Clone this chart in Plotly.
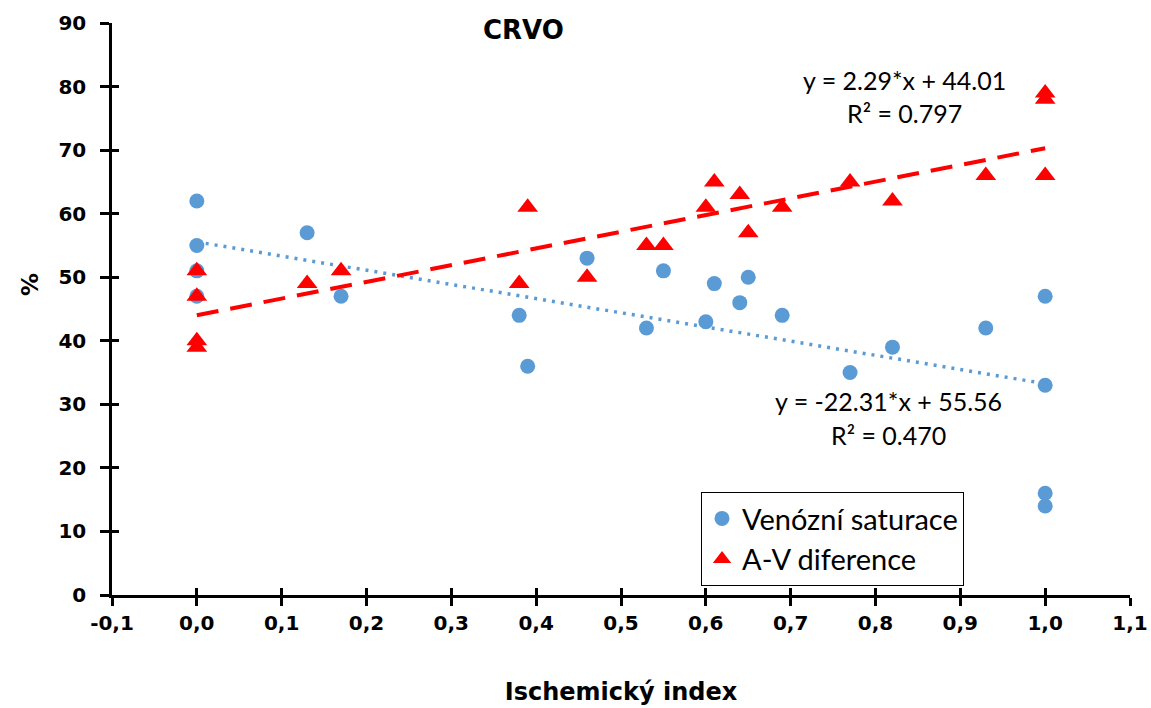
import plotly.graph_objects as go

# ---- data ----
ven_x = [0.0, 0.0, 0.0, 0.0, 0.13, 0.17, 0.38, 0.39, 0.46, 0.53, 0.55, 0.60, 0.61,
         0.64, 0.65, 0.69, 0.77, 0.82, 0.93, 1.0, 1.0, 1.0, 1.0]
ven_y = [62, 55, 51, 47, 57, 47, 44, 36, 53, 42, 51, 43, 49,
         46, 50, 44, 35, 39, 42, 47, 33, 16, 14]

av_x = [0.0, 0.0, 0.0, 0.0, 0.13, 0.17, 0.38, 0.39, 0.46, 0.53, 0.55, 0.60, 0.61,
        0.64, 0.65, 0.69, 0.77, 0.82, 0.93, 1.0, 1.0, 1.0]
av_y = [51, 47, 40, 39, 49, 51, 49, 61, 50, 55, 55, 61, 65,
        63, 57, 61, 65, 62, 66, 79, 78, 66]

# trend lines as drawn (slope, intercept)
ven_trend = (-22.31, 55.56)
av_trend = (26.29, 44.01)
trend_x = [0.0, 1.0]

ven_eq = ["y = -22.31*x + 55.56", "R² = 0.470"]
av_eq = ["y = 2.29*x + 44.01", "R² = 0.797"]

x_ticks = [-0.1, 0.0, 0.1, 0.2, 0.3, 0.4, 0.5, 0.6, 0.7, 0.8, 0.9, 1.0, 1.1]
x_ticktext = ["-0,1", "0,0", "0,1", "0,2", "0,3", "0,4", "0,5", "0,6", "0,7", "0,8", "0,9", "1,0", "1,1"]
y_ticks = [0, 10, 20, 30, 40, 50, 60, 70, 80, 90]

BLUE = "#5B9BD5"
RED = "#FF0000"

fig = go.Figure()

fig.add_trace(go.Scatter(x=trend_x, y=[ven_trend[0] * v + ven_trend[1] for v in trend_x],
                         mode="lines", line=dict(color=BLUE, width=3.5, dash="3px,6px"),
                         showlegend=False, hoverinfo="skip"))
fig.add_trace(go.Scatter(x=trend_x, y=[av_trend[0] * v + av_trend[1] for v in trend_x],
                         mode="lines", line=dict(color=RED, width=4, dash="22px,12px"),
                         showlegend=False, hoverinfo="skip"))

fig.add_trace(go.Scatter(x=ven_x, y=ven_y, mode="markers", name="Venózní saturace",
                         marker=dict(symbol="circle", size=15, color=BLUE)))
fig.add_trace(go.Scatter(x=av_x, y=av_y, mode="markers", name="A-V diference",
                         marker=dict(symbol="triangle-up", size=18, color=RED)))

# invisible trace for the inner-tick overlay axes
fig.add_trace(go.Scatter(x=[x_ticks[0]], y=[y_ticks[0]], xaxis="x2", yaxis="y2",
                         mode="markers", marker=dict(opacity=0), showlegend=False,
                         hoverinfo="skip"))

tick_font = dict(family="DejaVu Sans", size=20, color="black", weight="bold")
ann_font = dict(family="Lato", size=25, color="black")

fig.update_layout(
    width=1151, height=708,
    margin=dict(l=112, r=21, t=23, b=113, autoexpand=False),
    paper_bgcolor="white", plot_bgcolor="white",
    xaxis=dict(range=[-0.1, 1.1], tickvals=x_ticks, ticktext=x_ticktext,
               showline=True, linecolor="black", linewidth=2.5,
               ticks="outside", ticklen=8, tickwidth=2.5, tickcolor="black",
               showgrid=False, zeroline=False, tickfont=tick_font, automargin=False,
               title=dict(text="Ischemický index", standoff=50,
                          font=dict(family="DejaVu Sans", size=24, color="black", weight="bold"))),
    yaxis=dict(range=[0, 90], tickvals=y_ticks,
               showline=True, linecolor="black", linewidth=2.5,
               ticks="outside", ticklen=9, tickwidth=2.5, tickcolor="black",
               ticklabelstandoff=10, automargin=False,
               showgrid=False, zeroline=False, tickfont=tick_font),
    xaxis2=dict(range=[-0.1, 1.1], tickvals=x_ticks, overlaying="x", showticklabels=False,
                ticks="inside", ticklen=7, tickwidth=2.5, tickcolor="black",
                showline=False, showgrid=False, zeroline=False, automargin=False),
    yaxis2=dict(range=[0, 90], tickvals=y_ticks, overlaying="y", showticklabels=False,
                ticks="inside", ticklen=7, tickwidth=2.5, tickcolor="black",
                showline=False, showgrid=False, zeroline=False, automargin=False),
    legend=dict(x=0.5786, y=0.180, xanchor="left", yanchor="top",
                bordercolor="black", borderwidth=1, bgcolor="white",
                font=dict(family="Lato", size=29, color="black"),
                itemsizing="trace", tracegroupgap=0),
    showlegend=True,
)

annotations = [
    dict(text="CRVO", xref="paper", yref="paper", x=0.404, y=0.988, showarrow=False,
         xanchor="center", yanchor="middle",
         font=dict(family="DejaVu Sans", size=26, color="black", weight="bold")),
    dict(text="%", xref="paper", yref="paper", x=-0.0805, y=0.542, showarrow=False,
         xanchor="center", yanchor="middle",
         textangle=-90, font=dict(family="DejaVu Sans", size=23, color="black", weight="bold")),
    dict(text=av_eq[0], x=0.834, y=81.0, showarrow=False, font=ann_font,
         xanchor="center", yanchor="middle"),
    dict(text=av_eq[1], x=0.834, y=75.9, showarrow=False, font=ann_font,
         xanchor="center", yanchor="middle"),
    dict(text=ven_eq[0], x=0.815, y=30.5, showarrow=False, font=ann_font,
         xanchor="center", yanchor="middle"),
    dict(text=ven_eq[1], x=0.815, y=25.2, showarrow=False, font=ann_font,
         xanchor="center", yanchor="middle"),
]
fig.update_layout(annotations=annotations)

fig.write_html("out.html")
